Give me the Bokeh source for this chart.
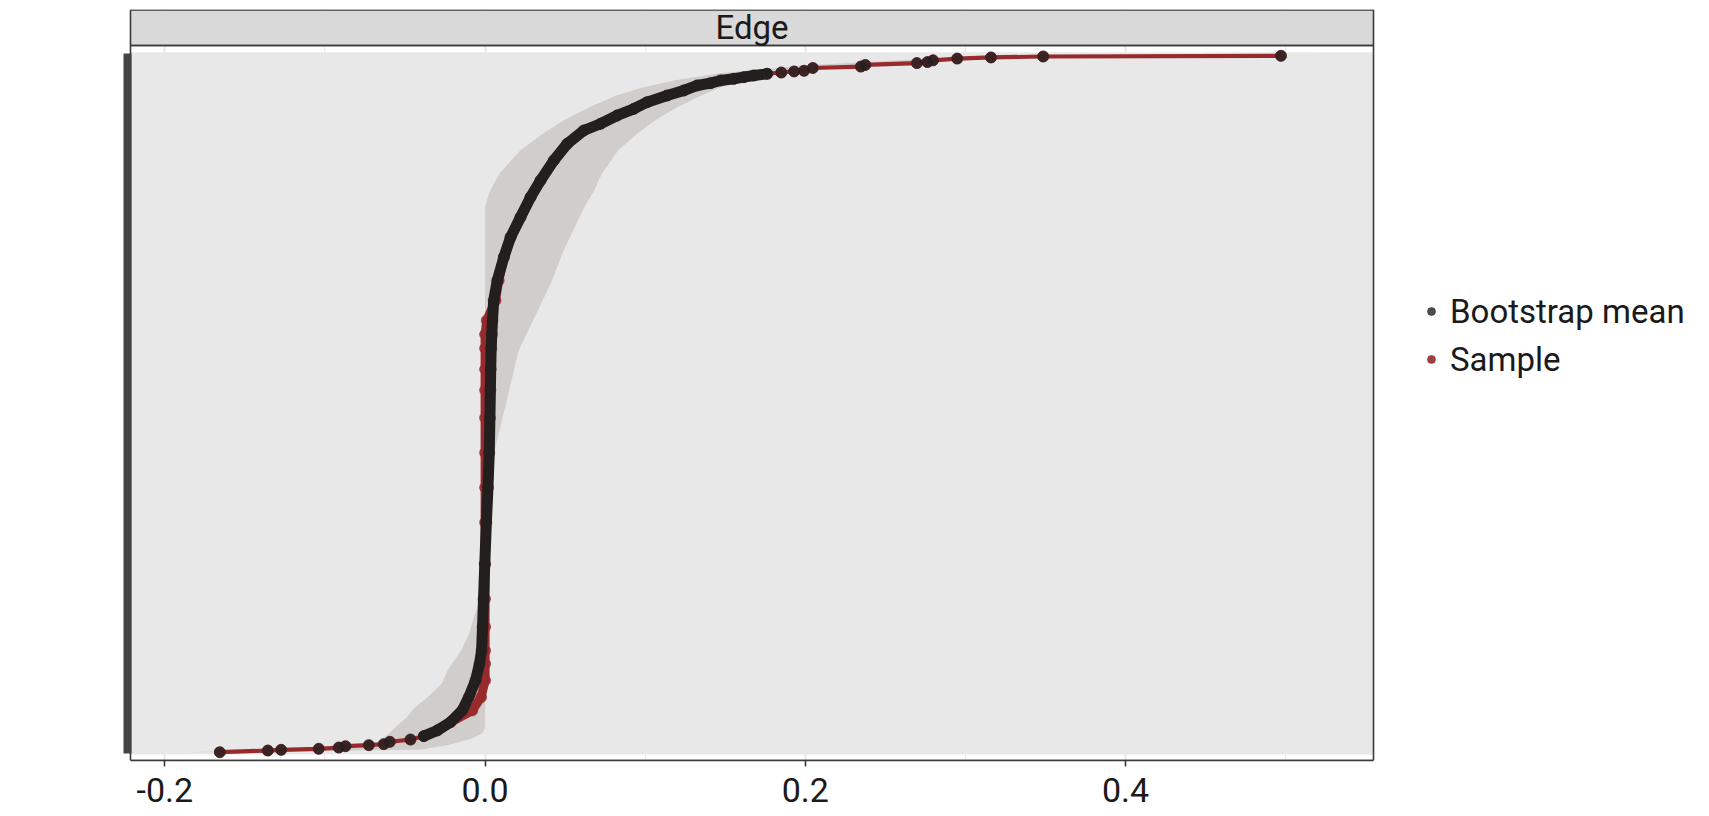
import numpy as np
from bokeh.plotting import figure
from bokeh.models import Range1d, FixedTicker, Legend, LegendItem, CustomJSTickFormatter
from bokeh.core.properties import value
from bokeh.embed import file_html
from bokeh.resources import INLINE

# ---------------- data ----------------
facet_label = "Edge"
series_names = ["Bootstrap mean", "Sample"]
x_ticks = [-0.2, 0.0, 0.2, 0.4]
x_minor_ticks = [-0.1, 0.1, 0.3, 0.5]

quantile = [0.0000, 0.0024, 0.0034, 0.0049, 0.0067, 0.0086, 0.0101, 0.0115, 0.0149,
            0.0182, 0.0230, 0.0312, 0.0431, 0.0599, 0.0790, 0.1030, 0.1269, 0.1460,
            0.1800, 0.2200, 0.2700, 0.3300, 0.3800, 0.4300, 0.4800, 0.5200, 0.5500,
            0.5800, 0.6000, 0.6200, 0.6487, 0.6774, 0.7108, 0.7395, 0.7682, 0.7970,
            0.8210, 0.8497, 0.8736, 0.8927, 0.9024, 0.9143, 0.9239, 0.9334, 0.9430,
            0.9502, 0.9574, 0.9607, 0.9646, 0.9670, 0.9693, 0.9717, 0.9742, 0.9760,
            0.9775, 0.9785, 0.9825, 0.9845, 0.9869, 0.9895, 0.9910, 0.9935, 0.9960,
            0.9976, 0.9990, 1.0000]

boot_mean = [-0.1657, -0.1357, -0.1274, -0.1039, -0.0914, -0.0872, -0.0726, -0.0633, -0.0595,
             -0.0466, -0.0383, -0.0299, -0.0216, -0.0143, -0.0102, -0.0060, -0.0035, -0.0022,
             -0.0016, -0.0010, -0.0002, 0.0008, 0.0018, 0.0026, 0.0030, 0.0033, 0.0035,
             0.0038, 0.0042, 0.0046, 0.0054, 0.0076, 0.0117, 0.0159, 0.0221, 0.0284,
             0.0346, 0.0429, 0.0513, 0.0616, 0.0721, 0.0825, 0.0929, 0.1012, 0.1137,
             0.1241, 0.1325, 0.1408, 0.1471, 0.1554, 0.1616, 0.1678, 0.1762, 0.1850,
             0.1930, 0.1992, 0.2047, 0.2347, 0.2375, 0.2697, 0.2763, 0.2798, 0.2949,
             0.3160, 0.3486, 0.4971]

sample = [-0.1657, -0.1357, -0.1274, -0.1039, -0.0914, -0.0872, -0.0726, -0.0633, -0.0595,
          -0.0466, -0.0383, -0.0299, -0.0216, -0.0080, -0.0025, 0.0000, 0.0000, 0.0000,
          0.0000, 0.0000, 0.0000, 0.0000, 0.0000, 0.0000, 0.0000, 0.0000, 0.0000,
          0.0000, 0.0000, 0.0010, 0.0065, 0.0085, 0.0117, 0.0159, 0.0221, 0.0284,
          0.0346, 0.0429, 0.0513, 0.0616, 0.0721, 0.0825, 0.0929, 0.1012, 0.1137,
          0.1241, 0.1325, 0.1408, 0.1471, 0.1554, 0.1616, 0.1678, 0.1762, 0.1850,
          0.1930, 0.1992, 0.2047, 0.2347, 0.2375, 0.2697, 0.2763, 0.2798, 0.2949,
          0.3160, 0.3486, 0.4971]

ci_quantile = [0.000, 0.004, 0.009, 0.015, 0.020, 0.027, 0.036, 0.050, 0.064, 0.079,
               0.092, 0.099, 0.119, 0.146, 0.170, 0.194, 0.220, 0.242, 0.386, 0.409,
               0.433, 0.481, 0.529, 0.577, 0.625, 0.673, 0.720, 0.783, 0.806, 0.831,
               0.864, 0.888, 0.907, 0.926, 0.943, 0.955, 0.965, 0.975, 0.982, 0.986,
               0.990, 0.995, 0.998, 1.000]
ci_low = [-0.186, -0.125, -0.069, -0.066, -0.064, -0.060, -0.056, -0.049, -0.044, -0.036,
          -0.030, -0.027, -0.023, -0.015, -0.010, -0.007, -0.003, 0.000, 0.000, 0.000,
          0.000, 0.000, 0.000, 0.000, 0.000, 0.000, 0.000, 0.000, 0.003, 0.009,
          0.022, 0.036, 0.049, 0.065, 0.082, 0.099, 0.119, 0.146, 0.180, 0.197,
          0.230, 0.270, 0.300, 0.470]
ci_high = [-0.150, -0.040, -0.026, -0.015, -0.008, -0.002, 0.000, 0.000, 0.000, 0.000,
           0.000, 0.000, 0.000, 0.000, 0.000, 0.000, 0.000, 0.000, 0.002, 0.004,
           0.006, 0.011, 0.016, 0.021, 0.031, 0.041, 0.049, 0.062, 0.068, 0.073,
           0.083, 0.095, 0.106, 0.120, 0.135, 0.147, 0.163, 0.180, 0.196, 0.220,
           0.262, 0.300, 0.360, 0.522]

# ---------------- layout constants ----------------
X0, X1 = -0.22336, 0.75665          # frame (includes legend area)
PX0, PX1 = -0.22149, 0.55490        # panel
Y0, Y1 = -0.01192, 1.06648          # frame
PY1 = 1.01479                       # panel top / strip bottom
SY1 = 1.06577                       # strip top
BG0, BG1 = -0.0033, 1.00517         # grey panel background rect

FONT = "Roboto"
TXT = "#1a1a1a"
RED = "#972a2c"
BLACK = "#231f1f"

p = figure(frame_width=1569, frame_height=751,
           x_range=Range1d(X0, X1), y_range=Range1d(Y0, Y1),
           output_backend="svg", toolbar_location=None,
           min_border_left=127, min_border_top=9, min_border_right=6, min_border_bottom=54)
p.outline_line_color = None
p.background_fill_color = "white"
p.border_fill_color = "white"

# grid
p.ygrid.visible = False
p.xgrid.grid_line_color = "#e6e6e6"
p.xgrid.grid_line_width = 2
p.xgrid.minor_grid_line_color = "#ececec"
p.xgrid.minor_grid_line_width = 1

# axes
p.xaxis.ticker = FixedTicker(ticks=x_ticks, minor_ticks=x_minor_ticks)
p.xaxis.formatter = CustomJSTickFormatter(code="return tick.toFixed(1);")
p.xaxis.bounds = (PX0, PX1)
p.xaxis.axis_line_color = "#3a3a3a"
p.xaxis.axis_line_width = 1.6
p.xaxis.major_tick_line_color = "#3a3a3a"
p.xaxis.major_tick_line_width = 1.6
p.xaxis.major_tick_out = 6
p.xaxis.major_tick_in = 0
p.xaxis.minor_tick_out = 0
p.xaxis.minor_tick_in = 0
p.xaxis.major_label_text_font = FONT
p.xaxis.major_label_text_font_size = "34px"
p.xaxis.major_label_text_color = TXT
p.xaxis.major_label_standoff = 11

p.yaxis.ticker = FixedTicker(ticks=[])
p.yaxis.bounds = (-0.002, 1.003)
p.yaxis.axis_line_color = "#444444"
p.yaxis.axis_line_width = 8
p.yaxis.major_tick_out = 0
p.yaxis.minor_tick_out = 0
p.yaxis.major_label_text_font_size = "0px"

# grey panel background
p.quad(left=[PX0], right=[PX1], bottom=[BG0], top=[BG1],
       fill_color="#e8e8e8", line_color=None)

# bootstrap confidence band
p.harea(x1=ci_low, x2=ci_high, y=ci_quantile, fill_color="#d0cdcb", fill_alpha=1.0)

q = np.array(quantile)
bm = np.array(boot_mean)
sm = np.array(sample)
dense = (q >= 0.02) & (q <= 0.975)

# sample
p.line(sm, q, line_color=RED, line_width=4.2, line_cap="round", line_join="round")
p.line(sm[dense], q[dense], line_color=RED, line_width=9, line_cap="round", line_join="round")
r_sample = p.scatter(sm, q, size=11, fill_color=RED, line_color=RED, fill_alpha=0.9, line_alpha=0.6)

# bootstrap mean
p.line(bm[dense], q[dense], line_color=BLACK, line_width=11, line_cap="round", line_join="round")
r_boot = p.scatter(bm, q, size=11, fill_color=BLACK, line_color=BLACK, fill_alpha=0.8, line_alpha=0.5)

# facet strip
p.quad(left=[PX0], right=[PX1], bottom=[PY1], top=[SY1],
       fill_color="#d9d9d9", line_color="#3a3a3a", line_width=1.6)
# panel border
p.quad(left=[PX0], right=[PX1], bottom=[Y0], top=[PY1],
       fill_color=None, line_color="#3a3a3a", line_width=1.6)
p.text(x=[(PX0 + PX1) / 2], y=[(PY1 + SY1) / 2], text=[facet_label],
       text_align="center", text_baseline="middle",
       text_font=value(FONT), text_font_size="33px", text_color=TXT)

# legend
legend = Legend(items=[LegendItem(label=series_names[0], renderers=[r_boot]),
                       LegendItem(label=series_names[1], renderers=[r_sample])],
                location=(1294, 377))
legend.glyph_width = 20
legend.glyph_height = 48
legend.label_height = 48
legend.spacing = 0
legend.padding = 0
legend.margin = 0
legend.label_standoff = 9
legend.border_line_alpha = 0
legend.background_fill_alpha = 0
legend.label_text_font = FONT
legend.label_text_font_size = "33px"
legend.label_text_color = TXT
legend.label_text_baseline = "middle"
p.add_layout(legend)

open("out.html", "w").write(file_html(p, INLINE))
